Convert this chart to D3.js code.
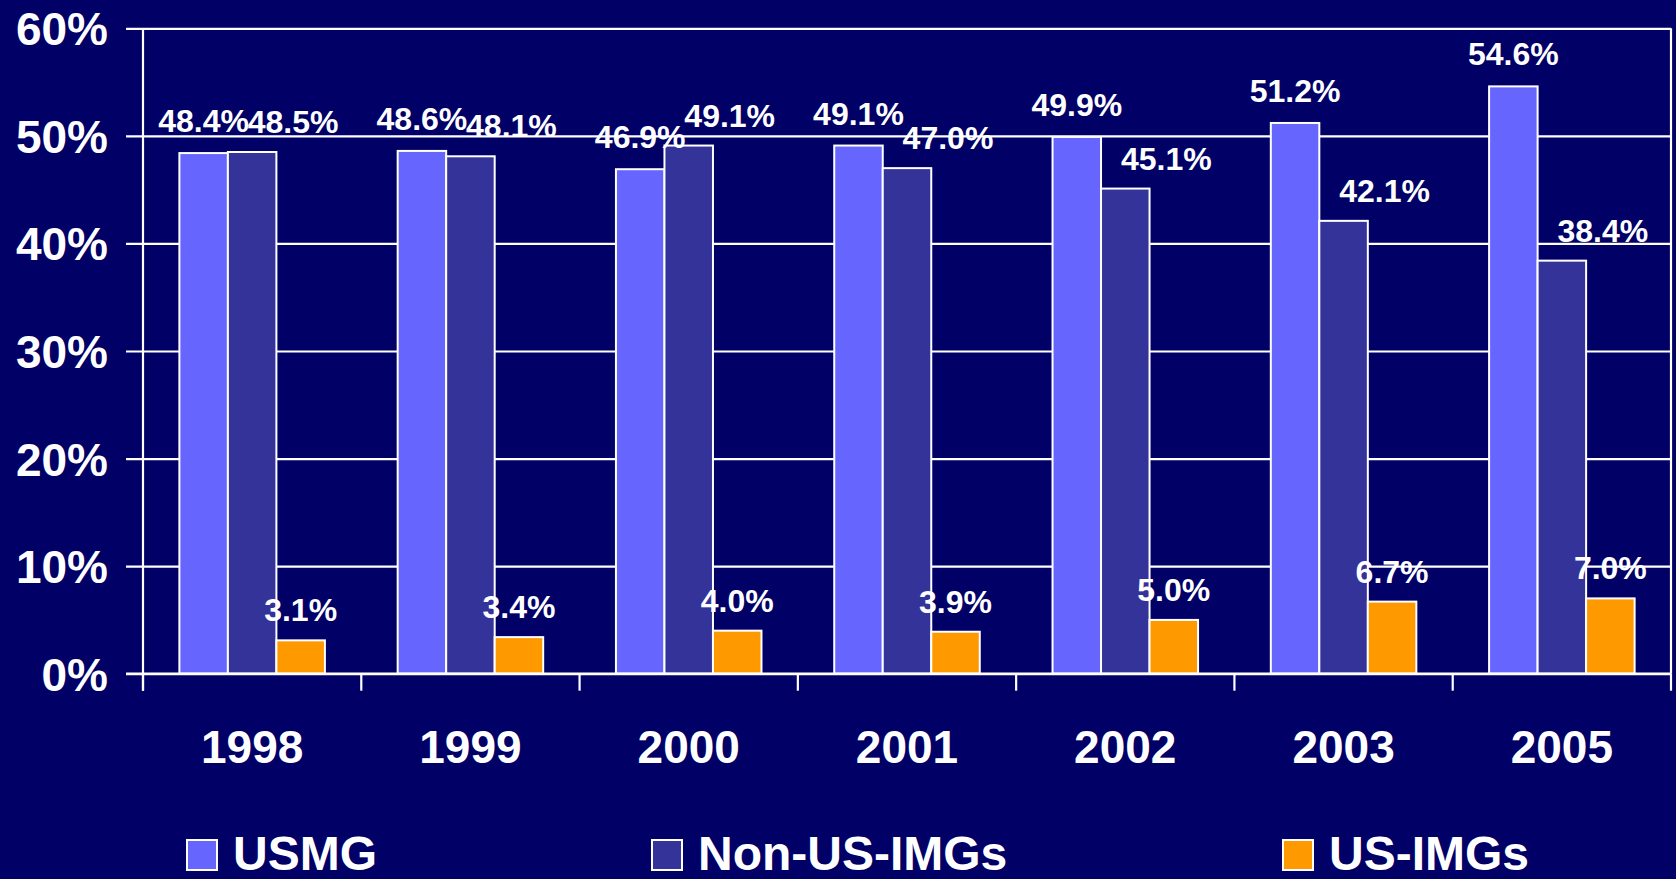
<!DOCTYPE html>
<html>
<head>
<meta charset="utf-8">
<script src="https://cdn.jsdelivr.net/npm/d3@7"></script>
<style>
  html, body { margin: 0; padding: 0; background: #000066; overflow: hidden; }
  svg { display: block; font-family: "Liberation Sans", Arial, sans-serif; font-weight: bold; }
</style>
</head>
<body>
<svg id="chart" width="1676" height="879"></svg>
<script>
const years = ['1998', '1999', '2000', '2001', '2002', '2003', '2005'];
const seriesNames = ['USMG', 'Non-US-IMGs', 'US-IMGs'];
const usmg = [48.4, 48.6, 46.9, 49.1, 49.9, 51.2, 54.6];
const nonUsImgs = [48.5, 48.1, 49.1, 47.0, 45.1, 42.1, 38.4];
const usImgs = [3.1, 3.4, 4.0, 3.9, 5.0, 6.7, 7.0];
const yTicks = [0, 10, 20, 30, 40, 50, 60];

const seriesValues = [usmg, nonUsImgs, usImgs];
const colors = ['#6666FF', '#333399', '#FF9900'];
const labelDx = [0, 41, 0];
const labelDy = [-21, -19, -19];

const svg = d3.select('#chart');
const W = 1676, H = 879;
svg.append('rect').attr('width', W).attr('height', H).attr('fill', '#000066');

const pLeft = 143, pRight = 1671, pTop = 28.3, pBottom = 673.7;

const x0 = d3.scaleBand().domain(years).range([pLeft, pRight]).paddingInner(0).paddingOuter(0);
const x1 = d3.scaleBand().domain(seriesNames).range([0, x0.bandwidth()]).paddingInner(0).paddingOuter(0.75);
const y = d3.scaleLinear().domain([0, 60]).range([pBottom, pTop]);

const yAxis = d3.axisLeft(y).tickValues(yTicks).tickSize(-(pRight - pLeft)).tickFormat(d => d + '%').tickPadding(35);
const gy = svg.append('g').attr('transform', `translate(${pLeft},0)`).call(yAxis);
gy.select('.domain').remove();
gy.selectAll('.tick line').attr('stroke', '#fff').attr('stroke-width', 2.2).attr('x1', -17);
gy.selectAll('.tick text').attr('fill', '#fff').attr('font-size', 46).attr('font-weight', 'bold')
  .attr('font-family', '"Liberation Sans", Arial, sans-serif').attr('x', -35).attr('dy', '0.36em');

svg.append('line').attr('x1', pLeft).attr('x2', pLeft).attr('y1', pTop).attr('y2', pBottom + 17)
  .attr('stroke', '#fff').attr('stroke-width', 2.2);
svg.append('line').attr('x1', pRight).attr('x2', pRight).attr('y1', pTop).attr('y2', pBottom)
  .attr('stroke', '#fff').attr('stroke-width', 2.2);

const boundaries = years.map(d => x0(d)).concat([pRight]);
svg.append('g').selectAll('line').data(boundaries).join('line')
  .attr('x1', d => d).attr('x2', d => d).attr('y1', pBottom).attr('y2', pBottom + 17)
  .attr('stroke', '#fff').attr('stroke-width', 2.2);

const xAxis = d3.axisBottom(x0).tickSize(0).tickPadding(0);
const gx = svg.append('g').attr('transform', `translate(0,${pBottom})`).call(xAxis);
gx.select('.domain').remove();
gx.selectAll('.tick text').attr('fill', '#fff').attr('font-size', 46).attr('font-weight', 'bold')
  .attr('font-family', '"Liberation Sans", Arial, sans-serif').attr('y', 73).attr('dy', '0.36em');

const groups = svg.append('g').selectAll('g').data(years).join('g')
  .attr('transform', d => `translate(${x0(d)},0)`);

groups.selectAll('rect').data((d, i) => seriesNames.map((s, k) => ({ s, k, v: seriesValues[k][i] })))
  .join('rect')
  .attr('x', d => x1(d.s))
  .attr('y', d => y(d.v))
  .attr('width', x1.bandwidth())
  .attr('height', d => y(0) - y(d.v))
  .attr('fill', d => colors[d.k])
  .attr('stroke', '#fff').attr('stroke-width', 2);

groups.selectAll('text.val').data((d, i) => seriesNames.map((s, k) => ({ s, k, v: seriesValues[k][i] })))
  .join('text').attr('class', 'val')
  .attr('x', d => x1(d.s) + x1.bandwidth() / 2 + labelDx[d.k])
  .attr('y', d => y(d.v) + labelDy[d.k])
  .attr('text-anchor', 'middle')
  .attr('fill', '#fff').attr('font-size', 32)
  .text(d => d.v.toFixed(1) + '%');

svg.append('line').attr('x1', pLeft - 17).attr('x2', pRight).attr('y1', pBottom).attr('y2', pBottom)
  .attr('stroke', '#fff').attr('stroke-width', 2.2);

const legendX = [187, 652, 1283];
const leg = svg.append('g').selectAll('g').data(seriesNames).join('g')
  .attr('transform', (d, i) => `translate(${legendX[i]},840)`);
leg.append('rect').attr('width', 30).attr('height', 30)
  .attr('fill', (d, i) => colors[i]).attr('stroke', '#fff').attr('stroke-width', 2);
leg.append('text').attr('x', 46).attr('y', 30).attr('fill', '#fff').attr('font-size', 48)
  .text(d => d);
</script>
</body>
</html>
